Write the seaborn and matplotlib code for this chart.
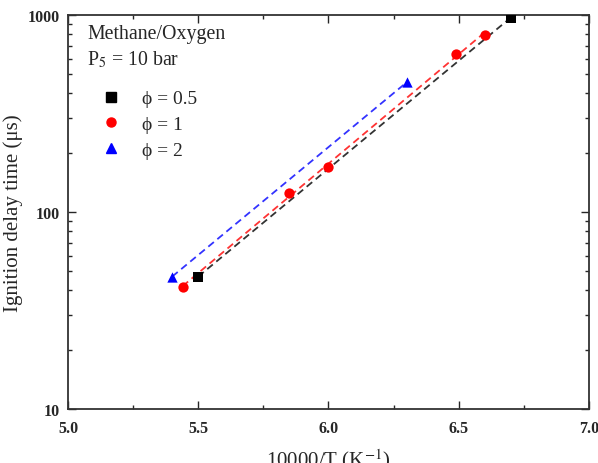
import matplotlib
matplotlib.use('Agg')
import matplotlib.pyplot as plt
from matplotlib.ticker import MultipleLocator, LogLocator, NullFormatter
from matplotlib.lines import Line2D
import seaborn as sns
import numpy as np
import pandas as pd

# data
phi_labels = ['\u03d5 = 0.5', '\u03d5 = 1', '\u03d5 = 2']
x_lean = [5.5, 6.7]
y_lean = [47, 970]
x_stoich = [5.44, 5.85, 6.0, 6.49, 6.6]
y_stoich = [41.5, 125, 170, 635, 795]
x_rich = [5.4, 6.3]
y_rich = [47, 455]

colors = ['black', 'red', 'blue']
markers = ['s', 'o', '^']

sns.set_theme(style="ticks")
plt.rcParams['font.family'] = ['Liberation Serif', 'DejaVu Serif']
plt.rcParams['mathtext.fontset'] = 'stix'

fig = plt.figure(figsize=(5.98, 4.64), dpi=100)
ax = fig.add_axes([0.1137, 0.1164, 0.871, 0.849])

series = [(x_lean, y_lean), (x_stoich, y_stoich), (x_rich, y_rich)]
for (xs, ys), lab, c, m in zip(series, phi_labels, colors, markers):
    df = pd.DataFrame({'x': xs, 'y': ys})
    # dashed fit line in log space
    k, b = np.polyfit(df['x'], np.log10(df['y']), 1)
    xf = np.array([min(xs), max(xs)])
    fit = pd.DataFrame({'x': xf, 'y': 10 ** (k * xf + b)})
    sns.lineplot(data=fit, x='x', y='y', ax=ax, color=c, linestyle=(0, (4, 2.5)),
                 linewidth=1.3, alpha=0.8)
    sns.scatterplot(data=df, x='x', y='y', ax=ax, color=c, marker=m, s=55,
                    edgecolor=c, linewidth=0, zorder=5)

ax.set_yscale('log')
ax.set_xlim(5.0, 7.0)
ax.set_ylim(10, 1000)
ax.xaxis.set_major_locator(MultipleLocator(0.5))
ax.xaxis.set_minor_locator(MultipleLocator(0.25))
ax.yaxis.set_major_locator(LogLocator(base=10))
ax.yaxis.set_minor_locator(LogLocator(base=10, subs=np.arange(2, 10)))
ax.yaxis.set_minor_formatter(NullFormatter())
ax.set_xticks([5.0, 5.5, 6.0, 6.5, 7.0])
ax.set_xticklabels(['5.0', '5.5', '6.0', '6.5', '7.0'])
ax.set_yticks([10, 100, 1000])
ax.set_yticklabels(['10', '100', '1000'])

ax.tick_params(which='both', direction='in', top=True, right=True, width=1.0)
ax.tick_params(which='major', length=6, labelsize=11.5)
ax.tick_params(axis='x', which='major', pad=8)
ax.tick_params(axis='y', which='major', pad=6)
ax.tick_params(which='minor', length=3)
for lbl in ax.get_xticklabels() + ax.get_yticklabels():
    lbl.set_fontweight('bold')
for sp in ax.spines.values():
    sp.set_linewidth(1.3)
    sp.set_color('#333333')

ax.set_xlabel('10000/T (K$^{-1}$)', fontsize=15, labelpad=7)
ax.set_ylabel('Ignition delay time (\u03bcs)', fontsize=15, labelpad=3)

ax.text(0.037, 0.952, 'Methane/Oxygen', transform=ax.transAxes, fontsize=14.3,
        va='center', ha='left')
ax.text(0.037, 0.888, 'P$_5$ = 10 bar', transform=ax.transAxes, fontsize=14.3,
        va='center', ha='left')

handles = [Line2D([], [], color=c, marker=m, linestyle='none', markersize=6.5)
           for c, m in zip(colors, markers)]
ax.legend(handles, phi_labels, loc='upper left', bbox_to_anchor=(0.045, 0.83),
          frameon=False, fontsize=14, handletextpad=1.0, labelspacing=0.42,
          handlelength=1.2, borderaxespad=0)

fig.savefig('out.png', dpi=100)
plt.close(fig)
